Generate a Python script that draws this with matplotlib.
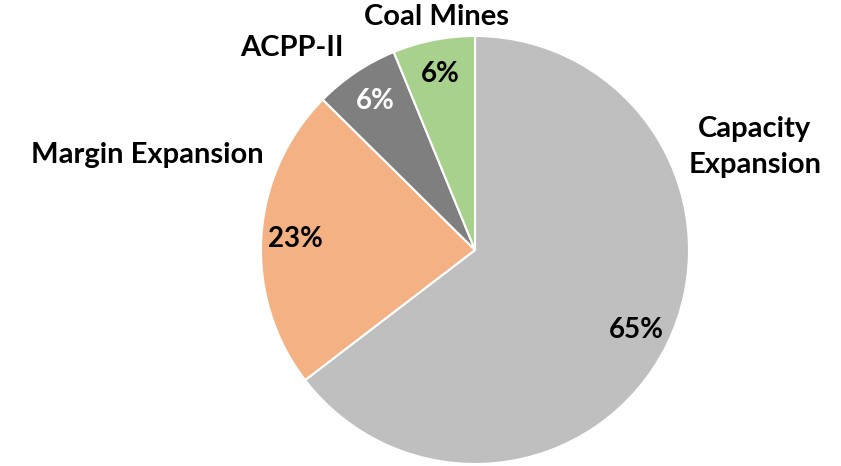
import numpy as np
import matplotlib
matplotlib.use("Agg")
import matplotlib.pyplot as plt

# data (shares; labels show rounded percentages)
categories = ["Capacity\nExpansion", "Margin Expansion", "ACPP-II", "Coal Mines"]
shares = [64.6, 22.8, 6.4, 6.2]
colors = ["#BFBFBF", "#F4B183", "#7F7F7F", "#A9D18E"]
pct_colors = ["black", "black", "white", "black"]

plt.rcParams['font.family'] = ['Lato', 'DejaVu Sans']

W, H = 841, 466
fig = plt.figure(figsize=(W / 100, H / 100), dpi=100)
ax = fig.add_axes([0, 0, 1, 1])
ax.set_xlim(0, W)
ax.set_ylim(0, H)
ax.set_aspect('equal')
ax.axis('off')

cx, cy, R = 475, H - 250, 214
wedges, texts, autotexts = ax.pie(
    shares, colors=colors, startangle=90, counterclock=False,
    center=(cx, cy), radius=R, autopct='%.0f%%', pctdistance=0.84,
    wedgeprops=dict(edgecolor='white', linewidth=1.5),
    textprops=dict(fontsize=20, fontweight='bold'))

for t, c in zip(autotexts, pct_colors):
    t.set_color(c)

# outside labels (positions in pixels, as in the reference)
label_pos = [(755, 147), (147, 155), (292, 48), (437, 17)]
for name, (lx, ly) in zip(categories, label_pos):
    ax.text(lx, H - ly, name, ha='center', va='center', fontsize=21,
            fontweight='bold', linespacing=1.45)

ax.set_xlim(0, W)
ax.set_ylim(0, H)
fig.savefig("out.png", dpi=100)
